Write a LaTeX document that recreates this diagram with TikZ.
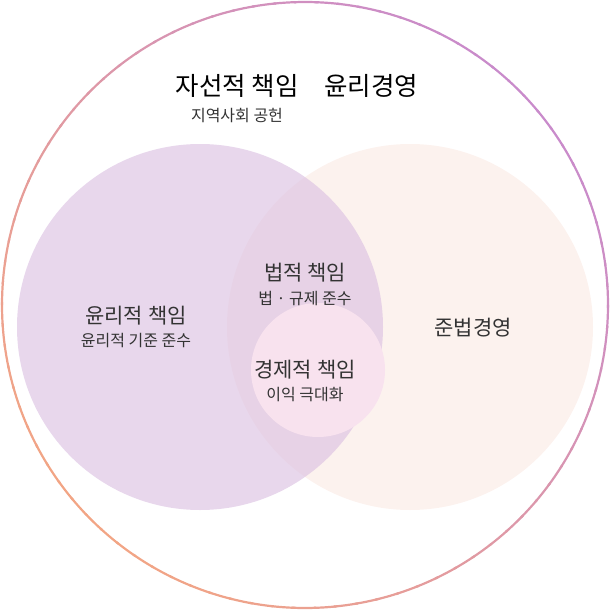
\documentclass[tikz,border=0pt]{standalone}
\usepackage{fontspec}
\setmainfont{Noto Sans CJK KR}
\definecolor{ringA}{HTML}{F2A585}
\definecolor{ringB}{HTML}{C98BCB}
\definecolor{lavender}{HTML}{DCC2E2}
\definecolor{peach}{HTML}{FCF2EE}
\definecolor{pinkcore}{HTML}{F8E2EE}
\definecolor{textgray}{HTML}{333333}
\begin{document}
\begin{tikzpicture}[x=1pt,y=-1pt,
  title/.style={text=black, font=\fontsize{25.5}{28}\selectfont},
  head/.style={text=textgray, font=\fontsize{21}{24}\selectfont},
  sub/.style={text=textgray, font=\fontsize{16}{18}\selectfont}]
  \useasboundingbox (0,0) rectangle (610,610);
  % outer ring with colour running from orange to purple
  \foreach \a in {0,4,...,356}{
    \pgfmathsetmacro{\mixv}{50+50*cos(\a+45)}
    \draw[line width=2.2pt, color=ringB!\mixv!ringA, line cap=round]
      (305,305) ++(\a:303) arc[start angle=\a, end angle=\a+4.5, radius=303];
  }
  % the two sets
  \fill[peach] (410,327) circle[radius=183];
  \fill[lavender, fill opacity=0.65] (200,327) circle[radius=183];
  \fill[pinkcore] (318,370) circle[radius=67];
  % texts
  \node[title] (csr) at (297,86) {자선적 책임\quad 윤리경영};
  \node[sub] (csrsub) at (237,116) {지역사회 공헌};
  \node[head] (eth) at (136,316) {윤리적 책임};
  \node[sub] (ethsub) at (136,341) {윤리적 기준 준수};
  \node[head] (law) at (305,273) {법적 책임};
  \node[sub] (lawsub) at (305,299) {법 · 규제 준수};
  \node[head] (eco) at (305,370) {경제적 책임};
  \node[sub] (ecosub) at (305,395) {이익 극대화};
  \node[head] (comp) at (473,328) {준법경영};
\end{tikzpicture}
\end{document}
